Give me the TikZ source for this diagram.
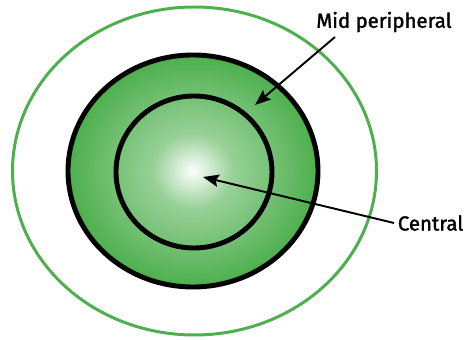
\documentclass[tikz,border=0pt]{standalone}
\usepackage{fontspec}
\setmainfont{Fira Sans}[FakeBold=1.6]
\usetikzlibrary{positioning,shapes.geometric,arrows.meta}
\definecolor{mygreen}{RGB}{77, 175, 77}
\pgfdeclareradialshading{greenglow}{\pgfpoint{0bp}{0bp}}{%
    color(0bp)=(white); color(1bp)=(white!92!mygreen);
    color(8bp)=(mygreen!58!white); color(25bp)=(mygreen); color(50bp)=(mygreen)}

\begin{document}
\begin{tikzpicture}[
    x=0.02cm, y=-0.02cm,
    zone/.style={
        ellipse,
        draw,
        inner sep=0pt,
        outer sep=0pt
    },
    outerzone/.style={zone, draw=mygreen, line width=1.7pt,
        minimum width=364*0.02cm, minimum height=328*0.02cm},
    midzone/.style={zone, line width=2.8pt, shading=greenglow,
        minimum width=250*0.02cm, minimum height=232*0.02cm},
    innerzone/.style={zone, line width=2.8pt,
        minimum width=156*0.02cm, minimum height=152*0.02cm},
    tag/.style={font=\fontsize{11.6}{13}\selectfont, inner sep=2pt},
    pointer/.style={-{Stealth[length=9pt, width=7pt, inset=1.5pt]}, line width=1.1pt}
]
\useasboundingbox (0,0) rectangle (464,340);

\node[outerzone] (outer) at (194.5,171) {};
\node[midzone] (mid) at (193,171) {};
\node[innerzone] (inner) at (194,172) {};

\node[tag] (midlabel) at (384,22) {Mid peripheral};
\node[tag, anchor=west] (central) at (394,223) {Central};

\coordinate (midfrom) at (335,37);
\coordinate (midto) at (255,105);
\coordinate (centreto) at (203,177);

\draw[pointer] (midfrom) -- (midto);
\draw[pointer] (central.west) -- (centreto);

\end{tikzpicture}
\end{document}
